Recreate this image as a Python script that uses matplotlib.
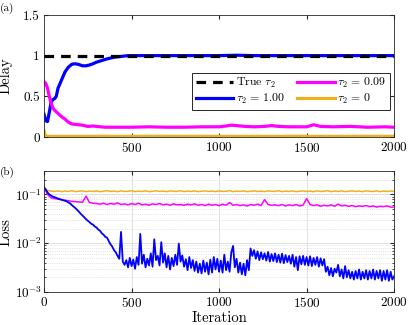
import matplotlib
matplotlib.use("Agg")
import matplotlib.pyplot as plt
import numpy as np

plt.rcParams['font.family'] = 'cmr10'
plt.rcParams['mathtext.fontset'] = 'cm'
plt.rcParams['axes.formatter.use_mathtext'] = True

# ---- (a) delay estimates ----
delay_iter_blue = [0, 10, 20, 30, 40, 50, 60, 70, 80, 100, 120, 140, 160, 180, 200,
                   220, 240, 260, 280, 300, 330, 360, 400, 440, 480, 600, 800, 1000,
                   1100, 1200, 1500, 1800, 2000]
delay_blue = [0.28, 0.2, 0.19, 0.3, 0.42, 0.46, 0.47, 0.5, 0.6, 0.7, 0.8, 0.86, 0.895,
              0.9, 0.89, 0.875, 0.875, 0.885, 0.9, 0.92, 0.94, 0.96, 0.98, 0.99, 1.0,
              1.0, 1.0, 1.0, 1.005, 1.0, 1.0, 1.0, 1.0]

delay_iter_mag = [0, 10, 20, 30, 40, 50, 60, 80, 100, 120, 140, 160, 180, 200, 220,
                  250, 280, 300, 350, 400, 500, 600, 700, 800, 900, 1000, 1040, 1070,
                  1100, 1150, 1200, 1260, 1300, 1340, 1400, 1500, 1540, 1580, 1650,
                  1750, 1850, 1950, 2000]
delay_mag = [0.68, 0.66, 0.6, 0.5, 0.42, 0.36, 0.33, 0.29, 0.25, 0.22, 0.18, 0.16,
             0.155, 0.15, 0.145, 0.13, 0.135, 0.13, 0.12, 0.12, 0.12, 0.125, 0.12,
             0.12, 0.125, 0.125, 0.135, 0.145, 0.14, 0.13, 0.125, 0.13, 0.14, 0.13,
             0.125, 0.125, 0.15, 0.13, 0.125, 0.13, 0.12, 0.125, 0.12]

delay_iter_org = [0, 5, 10, 20, 2000]
delay_org = [0.08, 0.03, 0.012, 0.008, 0.008]

true_tau = 1.0

# ---- (b) loss ----
loss_iter_blue = np.arange(0, 2001, 10)
loss_blue = [
    0.14, 0.125, 0.11, 0.10, 0.095, 0.09, 0.088, 0.085, 0.082, 0.080,
    0.078, 0.076, 0.074, 0.072, 0.068, 0.065, 0.060, 0.056, 0.052, 0.048,
    0.044, 0.040, 0.037, 0.034, 0.031, 0.029, 0.027, 0.025, 0.024, 0.022,
    0.021, 0.019, 0.018, 0.016, 0.015, 0.0135, 0.013, 0.011, 0.0095, 0.0085,
    0.0072, 0.0065, 0.0055, 0.0048, 0.017, 0.0042, 0.0036, 0.0045, 0.0032, 0.005,
    0.0034, 0.0046, 0.003, 0.0052, 0.0036, 0.0155, 0.0038, 0.0058, 0.0032, 0.0048,
    0.0035, 0.0062, 0.0033, 0.012, 0.0045, 0.0055, 0.0035, 0.0105, 0.004, 0.0062,
    0.0032, 0.0055, 0.0029, 0.005, 0.0034, 0.0058, 0.0036, 0.0098, 0.0042, 0.0056,
    0.0033, 0.0047, 0.0028, 0.0052, 0.0031, 0.0045, 0.0027, 0.0042, 0.0025, 0.0038,
    0.0024, 0.0044, 0.0026, 0.004, 0.0023, 0.0046, 0.0025, 0.0052, 0.0029, 0.0048,
    0.0026, 0.0044, 0.0025, 0.0058, 0.0028, 0.0042, 0.0026, 0.0065, 0.0088, 0.0032,
    0.0048, 0.0025, 0.004, 0.0023, 0.0038, 0.0022, 0.0045, 0.0028, 0.0078, 0.0055,
    0.0072, 0.0048, 0.0068, 0.0045, 0.0065, 0.0047, 0.0062, 0.0044, 0.0066, 0.0042,
    0.006, 0.0043, 0.0062, 0.0041, 0.0058, 0.004, 0.0061, 0.0039, 0.0057, 0.0041,
    0.0055, 0.0038, 0.0058, 0.0033, 0.0052, 0.0028, 0.0054, 0.0037, 0.0055, 0.0036,
    0.0052, 0.0035, 0.0054, 0.0034, 0.005, 0.0036, 0.0052, 0.0033, 0.0049, 0.0035,
    0.0047, 0.0026, 0.0033, 0.0022, 0.0031, 0.0021, 0.003, 0.0025, 0.0036, 0.0021,
    0.0029, 0.0019, 0.0034, 0.002, 0.0028, 0.0019, 0.0026, 0.0018, 0.0027, 0.0019,
    0.0029, 0.0018, 0.0026, 0.0019, 0.0028, 0.0018, 0.0027, 0.0019, 0.0029, 0.0018,
    0.0027, 0.0019, 0.0028, 0.0017, 0.0027, 0.0018, 0.0028, 0.0017, 0.0026, 0.0018,
    0.0021]

loss_iter_20 = np.arange(0, 2001, 20)
loss_mag = [
    0.14, 0.10, 0.085, 0.082, 0.080, 0.078, 0.076, 0.074, 0.072, 0.071,
    0.070, 0.069, 0.092, 0.068, 0.066, 0.065, 0.063, 0.066, 0.062, 0.065,
    0.063, 0.067, 0.062, 0.064, 0.061, 0.065, 0.062, 0.066, 0.061, 0.063,
    0.060, 0.064, 0.062, 0.065, 0.061, 0.063, 0.060, 0.064, 0.061, 0.062,
    0.060, 0.063, 0.061, 0.064, 0.060, 0.062, 0.059, 0.063, 0.060, 0.062,
    0.059, 0.063, 0.060, 0.068, 0.060, 0.062, 0.059, 0.061, 0.058, 0.062,
    0.060, 0.063, 0.059, 0.078, 0.062, 0.060, 0.061, 0.059, 0.062, 0.058,
    0.061, 0.059, 0.062, 0.058, 0.060, 0.082, 0.062, 0.059, 0.061, 0.057,
    0.060, 0.058, 0.061, 0.057, 0.063, 0.058, 0.060, 0.057, 0.059, 0.056,
    0.058, 0.057, 0.059, 0.056, 0.058, 0.055, 0.057, 0.056, 0.058, 0.055,
    0.055]
loss_org = [
    0.14, 0.12, 0.117, 0.115, 0.118, 0.114, 0.117, 0.115, 0.119, 0.114,
    0.116, 0.118, 0.114, 0.117, 0.115, 0.118, 0.114, 0.116, 0.119, 0.115,
    0.117, 0.114, 0.118, 0.115, 0.116, 0.119, 0.114, 0.117, 0.115, 0.118,
    0.114, 0.116, 0.118, 0.115, 0.117, 0.114, 0.118, 0.116, 0.115, 0.119,
    0.114, 0.117, 0.115, 0.118, 0.114, 0.116, 0.118, 0.115, 0.117, 0.114,
    0.118, 0.115, 0.116, 0.119, 0.114, 0.117, 0.115, 0.118, 0.114, 0.116,
    0.118, 0.115, 0.117, 0.114, 0.118, 0.116, 0.115, 0.119, 0.114, 0.117,
    0.115, 0.118, 0.114, 0.116, 0.118, 0.115, 0.117, 0.114, 0.118, 0.115,
    0.116, 0.119, 0.114, 0.117, 0.115, 0.118, 0.114, 0.116, 0.118, 0.115,
    0.117, 0.114, 0.118, 0.116, 0.115, 0.118, 0.114, 0.117, 0.115, 0.117,
    0.116]

BLUE = '#0000ff'
MAG = '#ff00ff'
ORG = '#edb120'
AXC = '#262626'

fig = plt.figure(figsize=(4.09, 3.25), dpi=100)
ax1 = fig.add_axes([0.1076, 0.5785, 0.856, 0.3755])
ax2 = fig.add_axes([0.1076, 0.1015, 0.856, 0.372])

# (a)
l_blue, = ax1.plot(delay_iter_blue, delay_blue, color=BLUE, lw=2.3, zorder=2)
l_mag, = ax1.plot(delay_iter_mag, delay_mag, color=MAG, lw=2.3, zorder=2)
l_org, = ax1.plot(delay_iter_org, delay_org, color=ORG, lw=2.3, zorder=2)
l_true, = ax1.plot([0, 2000], [true_tau, true_tau], color='k', lw=2.3,
                   ls=(0, (3, 2.2)), zorder=3)
ax1.set_xlim(0, 2000)
ax1.set_ylim(0, 1.5)
ax1.set_xticks([500, 1000, 1500, 2000])
ax1.set_yticks([0, 0.5, 1, 1.5])
ax1.set_yticklabels(['0', '0.5', '1', '1.5'])
ax1.set_ylabel('Delay', fontsize=10.5)
ax1.yaxis.set_label_coords(-0.09, 0.5)
leg = ax1.legend([l_true, l_blue, l_mag, l_org],
                 [r'True $\tau_2$', r'$\tau_2\,=\,1.00$', r'$\tau_2\,=\,0.09$', r'$\tau_2\,=\,0$'],
                 ncol=2, loc='upper left', bbox_to_anchor=(0.423, 0.525),
                 borderaxespad=0, fontsize=8.5, handlelength=3.2, handletextpad=0.2,
                 columnspacing=1.0, labelspacing=0.15, borderpad=0.3,
                 fancybox=False, framealpha=1, edgecolor=AXC)
leg.get_frame().set_linewidth(0.7)

# (b)
ax2.semilogy(loss_iter_20, loss_org, color=ORG, lw=1.1)
ax2.semilogy(loss_iter_20, loss_mag, color=MAG, lw=1.1)
ax2.semilogy(loss_iter_blue, loss_blue, color=BLUE, lw=1.3)
ax2.set_xlim(0, 2000)
ax2.set_ylim(1e-3, 0.3)
ax2.set_xticks([0, 500, 1000, 1500, 2000])
ax2.set_xlabel('Iteration', fontsize=10.5, labelpad=1)
ax2.set_ylabel('Loss', fontsize=10.5)
ax2.yaxis.set_label_coords(-0.09, 0.5)
ax2.grid(True, which='major', color='#dcdcdc', lw=0.6)
ax2.grid(True, which='minor', axis='y', color='#d0d0d0', lw=0.5, ls=':')

for ax in (ax1, ax2):
    ax.tick_params(which='both', direction='in', top=True, right=True,
                   labelsize=9.5, color=AXC, pad=3)
    ax.tick_params(which='major', length=3)
    ax.tick_params(which='minor', length=1.5)
    for s in ax.spines.values():
        s.set_color(AXC)
        s.set_linewidth(0.6)
ax2.tick_params(axis='y', pad=1.5)

fig.text(0.0, 0.975, '(a)', fontsize=8, va='center', ha='left')
fig.text(0.0, 0.47, '(b)', fontsize=8, va='center', ha='left')

fig.savefig('out.png', dpi=100)
